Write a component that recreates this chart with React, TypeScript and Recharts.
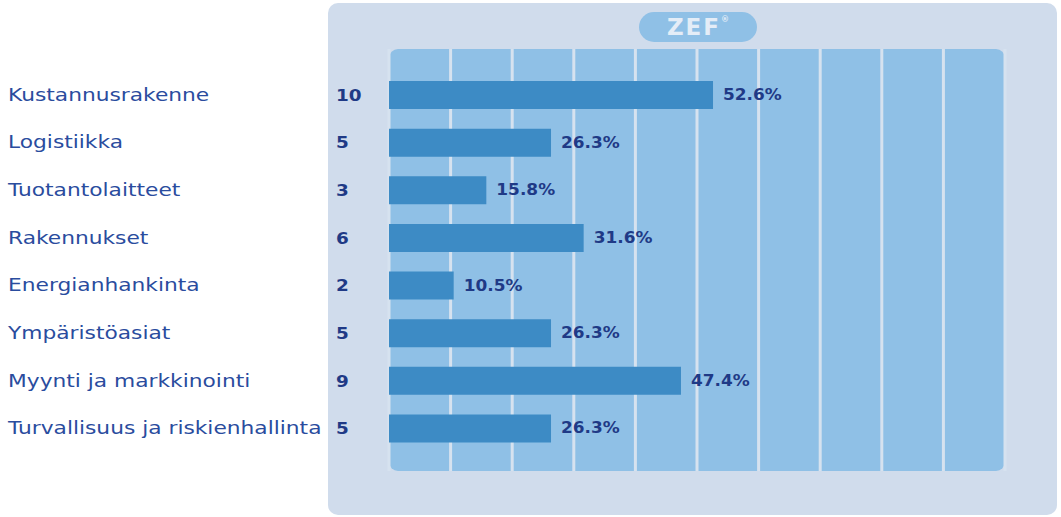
import { Bar, BarChart, CartesianGrid, LabelList, XAxis, YAxis } from "recharts";

const categories = [
  "Kustannusrakenne",
  "Logistiikka",
  "Tuotantolaitteet",
  "Rakennukset",
  "Energianhankinta",
  "Ympäristöasiat",
  "Myynti ja markkinointi",
  "Turvallisuus ja riskienhallinta",
];
const counts = [10, 5, 3, 6, 2, 5, 9, 5];
const percents = [52.6, 26.3, 15.8, 31.6, 10.5, 26.3, 47.4, 26.3];
// grid lines only between the columns, not on the plot edges
const gridTicks = [10, 20, 30, 40, 50, 60, 70, 80, 90];

const data = categories.map((name, i) => ({ name, count: counts[i], pct: percents[i] }));

const FONT = "'DejaVu Sans', Verdana, sans-serif";

const RowTick = (props: any) => {
  const { y, payload, index } = props;
  return (
    <g>
      <text
        transform={`translate(8,${y + 6}) scale(1.28,1)`}
        fill="#2a4c9e"
        fontSize={17}
        fontFamily={FONT}
        textAnchor="start"
      >
        {payload.value}
      </text>
      <text
        transform={`translate(336,${y + 6}) scale(1.15,1)`}
        fill="#1f3a86"
        fontSize={16}
        fontWeight="bold"
        fontFamily={FONT}
      >
        {counts[index]}
      </text>
    </g>
  );
};

const PctLabel = (props: any) => {
  const { x, y, width, height, value } = props;
  return (
    <text
      transform={`translate(${x + width + 10},${y + height / 2 + 5}) scale(1.13,1)`}
      fill="#1f3a86"
      fontSize={15}
      fontWeight="bold"
      fontFamily={FONT}
    >
      {`${value}%`}
    </text>
  );
};

export default function App() {
  return (
    <div style={{ position: "absolute", left: 0, top: 0, width: 1061, height: 517, background: "#fff" }}>
      <div
        style={{
          position: "absolute",
          left: 328,
          top: 3,
          width: 729,
          height: 512,
          background: "#d0dcec",
          borderRadius: 10,
        }}
      />
      <div
        style={{
          position: "absolute",
          left: 389,
          top: 49,
          width: 616,
          height: 422,
          background: "#8fc0e6",
          borderRadius: 9,
        }}
      />
      <div
        style={{
          position: "absolute",
          left: 639,
          top: 12,
          width: 118,
          height: 30,
          borderRadius: 15,
          background: "#8fc0e6",
          color: "#e4edf7",
          fontFamily: FONT,
          fontWeight: "bold",
          fontSize: 23,
          letterSpacing: 2,
          lineHeight: "30px",
          textAlign: "center",
        }}
      >
        ZEF<sup style={{ fontSize: 8, verticalAlign: "top", lineHeight: "16px", letterSpacing: 0 }}>®</sup>
      </div>
      <div style={{ position: "absolute", left: 0, top: 0 }}>
        <BarChart
          width={1061}
          height={517}
          data={data}
          layout="vertical"
          margin={{ top: 49, right: 56, bottom: 46, left: 0 }}
        >
          <CartesianGrid horizontal={false} stroke="#d6e2ef" strokeWidth={3} />
          <XAxis type="number" domain={[0, 100]} ticks={gridTicks} hide />
          <YAxis
            type="category"
            dataKey="name"
            width={389}
            axisLine={false}
            tickLine={false}
            tick={<RowTick />}
            interval={0}
            padding={{ top: 22, bottom: 19 }}
          />
          <Bar dataKey="pct" fill="#3d8bc5" barSize={28} isAnimationActive={false}>
            <LabelList dataKey="pct" content={<PctLabel />} />
          </Bar>
        </BarChart>
      </div>
    </div>
  );
}
